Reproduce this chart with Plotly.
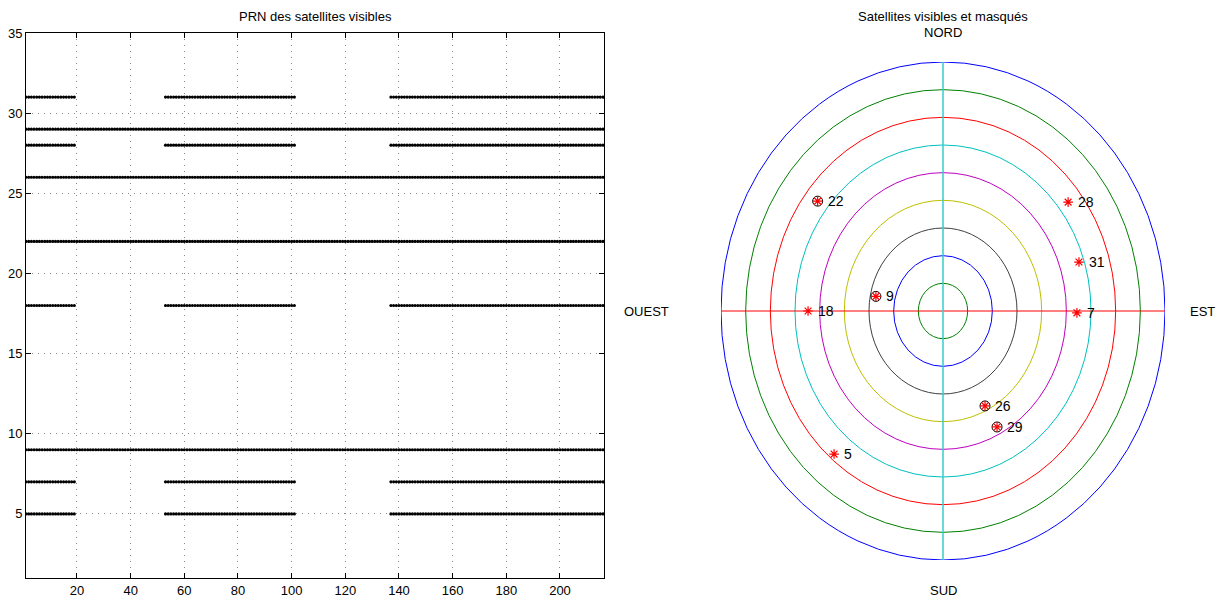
import numpy as np
import plotly.graph_objects as go

W, H = 1219, 603

# ---- Left panel data: visibility intervals (epoch start, epoch end) per PRN
prn_list = [5, 7, 9, 18, 22, 26, 28, 29, 31]
intervals_partial = [[1, 19], [53, 101], [137, 216]]
intervals_full = [[1, 216]]
visibility = {
    5: intervals_partial,
    7: intervals_partial,
    9: intervals_full,
    18: intervals_partial,
    22: intervals_full,
    26: intervals_full,
    28: intervals_partial,
    29: intervals_full,
    31: intervals_partial,
}
x_ticks = [20, 40, 60, 80, 100, 120, 140, 160, 180, 200]
y_ticks = [5, 10, 15, 20, 25, 30, 35]

# ---- Right panel data: skyplot (azimuth deg, elevation deg)
sat_prn = [22, 9, 18, 28, 31, 7, 26, 29, 5]
sat_az = [308.0, 281.0, 270.0, 52.2, 72.2, 90.7, 153.6, 152.4, 220.5]
sat_el = [25.5, 62.3, 35.3, 25.8, 32.1, 35.7, 51.7, 42.7, 22.0]
sat_visible = [True, True, False, False, False, False, True, True, False]
ring_radii = [10, 20, 30, 40, 50, 60, 70, 80, 90]
ring_colors = ["#008000", "#0000ff", "#404040", "#bfbf00", "#bf00bf",
               "#00bfbf", "#ff0000", "#008000", "#0000ff"]

FONT = "Liberation Sans, Arial, Helvetica, sans-serif"

fig = go.Figure()

# Left panel traces
xs, ys = [], []
for prn in prn_list:
    for a, b in visibility[prn]:
        ep = np.arange(a, b + 1)
        xs.extend(ep.tolist())
        ys.extend([prn] * len(ep))
fig.add_trace(go.Scatter(x=xs, y=ys, mode="markers",
                         marker=dict(color="black", size=3.2, line=dict(width=0)),
                         xaxis="x", yaxis="y", showlegend=False, hoverinfo="skip"))

# Right panel: compute cartesian positions
r = 90 - np.array(sat_el)
az = np.radians(sat_az)
sx = r * np.sin(az)
sy = r * np.cos(az)
vis = np.array(sat_visible)

fig.add_trace(go.Scatter(x=sx[vis], y=sy[vis], mode="markers",
                         marker=dict(symbol="circle-open", size=10, color="black",
                                     line=dict(width=1, color="black")),
                         xaxis="x2", yaxis="y2", showlegend=False, hoverinfo="skip"))
fig.add_trace(go.Scatter(x=sx, y=sy, mode="markers",
                         marker=dict(symbol="asterisk-open", size=8, color="red",
                                     line=dict(width=1.2, color="red")),
                         xaxis="x2", yaxis="y2", showlegend=False, hoverinfo="skip"))

shapes = []
for rad, col in zip(ring_radii, ring_colors):
    shapes.append(dict(type="circle", xref="x2", yref="y2", x0=-rad, x1=rad,
                       y0=-rad, y1=rad, line=dict(color=col, width=1), layer="below"))
shapes.append(dict(type="line", xref="x2", yref="y2", x0=-90, x1=90, y0=0, y1=0,
                   line=dict(color="#ff0000", width=1), layer="below"))
shapes.append(dict(type="line", xref="x2", yref="y2", x0=0, x1=0, y0=-90, y1=90,
                   line=dict(color="#33cccc", width=1.5), layer="below"))

annotations = []
for p, x, y in zip(sat_prn, sx, sy):
    annotations.append(dict(x=x, y=y, xref="x2", yref="y2", text=str(p),
                            showarrow=False, xanchor="left", yanchor="middle",
                            xshift=8, font=dict(size=14, color="black", family=FONT)))

def px(xp):
    return xp / W

def py(yp):
    return 1 - yp / H

for txt, x, y in [("PRN des satellites visibles", 315, 17),
                  ("Satellites visibles et masqués", 943, 17),
                  ("NORD", 943, 33), ("SUD", 943, 590),
                  ("OUEST", 646, 311), ("EST", 1202, 311)]:
    annotations.append(dict(x=px(x), y=py(y), xref="paper", yref="paper", text=txt,
                            showarrow=False, xanchor="center", yanchor="middle",
                            font=dict(size=13, color="black", family=FONT)))

axis_common = dict(showline=True, linecolor="black", linewidth=1, mirror="ticks",
                   ticks="inside", ticklen=5, tickcolor="black",
                   showgrid=True, gridcolor="#8a8a8a", griddash="1px,5px", gridwidth=1,
                   zeroline=False, automargin=False,
                   tickfont=dict(size=13, color="black", family=FONT))

fig.update_layout(
    width=W, height=H, autosize=False,
    margin=dict(l=0, r=0, t=0, b=0, pad=0, autoexpand=False),
    paper_bgcolor="white", plot_bgcolor="white",
    font=dict(family=FONT, color="black"),
    xaxis=dict(domain=[px(26), px(604)], range=[1, 216.4], tickvals=x_ticks,
               anchor="y", **axis_common),
    yaxis=dict(domain=[py(578), py(33)], range=[1, 35], tickvals=y_ticks,
               anchor="x", **axis_common),
    xaxis2=dict(domain=[px(721), px(1165)], range=[-90, 90], visible=False,
                anchor="y2"),
    yaxis2=dict(domain=[py(560), py(62)], range=[-90, 90], visible=False,
                anchor="x2"),
    shapes=shapes,
    annotations=annotations,
)

fig.write_html("out.html", config={"displayModeBar": False},
               post_script="document.body.style.margin='0';document.body.style.padding='0';")
